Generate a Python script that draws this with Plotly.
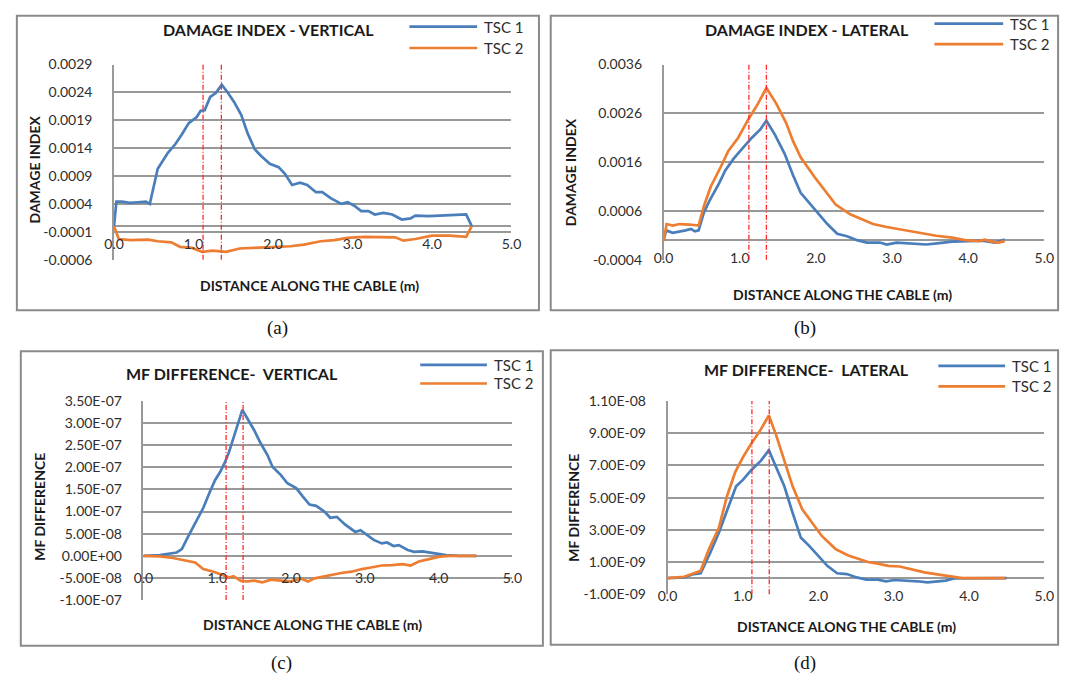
import plotly.graph_objects as go

W, H = 1073, 687

# ---------------- data ----------------
# (a) damage index - vertical
a1_x = [0, 0.03, 0.1, 0.2, 0.3, 0.4, 0.45, 0.55, 0.68, 0.77, 0.85, 0.94, 1.04, 1.09, 1.14, 1.21, 1.28, 1.355,
        1.43, 1.51, 1.6, 1.68, 1.77, 1.85, 1.96, 2.07, 2.15, 2.24, 2.34, 2.43, 2.54, 2.62, 2.73, 2.86, 2.94,
        3.03, 3.11, 3.2, 3.28, 3.39, 3.5, 3.62, 3.73, 3.79, 3.96, 4.22, 4.43, 4.5]
a1_y = [0, 0.00044, 0.00044, 0.00042, 0.00043, 0.00044, 0.0004, 0.00103, 0.00132, 0.00147, 0.00164, 0.00185,
        0.00196, 0.00207, 0.00208, 0.00232, 0.00239, 0.00254, 0.0024, 0.00223, 0.002, 0.00167, 0.00138, 0.00126,
        0.00112, 0.00106, 0.00094, 0.00074, 0.00078, 0.00074, 0.00061, 0.00061, 0.0005, 0.0004, 0.00043, 0.00036,
        0.00027, 0.00027, 0.00021, 0.00024, 0.00021, 0.00012, 0.00014, 0.00019, 0.00018, 0.00019, 0.00021, 0.0]
a2_x = [0, 0.06, 0.21, 0.43, 0.55, 0.72, 0.83, 0.98, 1.11, 1.24, 1.41, 1.58, 1.75, 2.0, 2.22, 2.39, 2.6, 2.77,
        2.94, 3.15, 3.37, 3.54, 3.64, 3.79, 4.0, 4.22, 4.43, 4.5]
a2_y = [0, -0.00023, -0.00025, -0.00024, -0.00027, -0.00029, -0.00037, -0.00039, -0.00046, -0.00044, -0.00046,
        -0.0004, -0.00039, -0.00037, -0.00036, -0.00033, -0.00027, -0.00025, -0.00021, -0.00019, -0.0002, -0.0002,
        -0.00026, -0.00023, -0.00017, -0.00017, -0.00019, 0]

# (b) damage index - lateral
b1_x = [0, 0.035, 0.12, 0.21, 0.29, 0.36, 0.41, 0.46, 0.53, 0.6, 0.73, 0.81, 0.92, 1.03, 1.16, 1.27, 1.35, 1.46,
        1.59, 1.7, 1.8, 1.91, 2.02, 2.15, 2.28, 2.41, 2.54, 2.67, 2.84, 2.93, 3.06, 3.27, 3.45, 3.62, 3.79, 4.01,
        4.18, 4.35, 4.48]
b1_y = [0, 0.0002, 0.00015, 0.00017, 0.0002, 0.00023, 0.00018, 0.0002, 0.00057, 0.0008, 0.00117, 0.00143, 0.00167,
        0.00187, 0.0021, 0.00227, 0.00245, 0.00217, 0.00177, 0.00133, 0.00097, 0.00077, 0.00057, 0.00033, 0.00013,
        0.00008, 0.0, -0.00005, -0.00005, -0.00009, -0.00005, -0.00007, -0.00009, -0.00006, -0.00003, -0.00002,
        -0.00001, -0.00005, 0.00001]
b2_x = [0, 0.04, 0.12, 0.21, 0.34, 0.46, 0.53, 0.62, 0.75, 0.85, 0.98, 1.11, 1.24, 1.35, 1.48, 1.61, 1.7, 1.8,
        1.98, 2.11, 2.26, 2.45, 2.6, 2.75, 2.93, 3.14, 3.36, 3.58, 3.79, 3.96, 4.14, 4.22, 4.31, 4.4, 4.48]
b2_y = [-0.00002, 0.00033, 0.0003, 0.00033, 0.00032, 0.0003, 0.0007, 0.0011, 0.0015, 0.00183, 0.0021, 0.00247,
        0.0028, 0.00312, 0.0028, 0.0024, 0.00203, 0.0017, 0.0013, 0.00103, 0.00073, 0.00053, 0.00043, 0.00033,
        0.00027, 0.00021, 0.00015, 0.00009, 0.00005, 0.0, -0.00002, 0.00001, -0.00003, -0.00005, -0.00002]

# (c) MF difference - vertical
c1_x = [0, 0.22, 0.45, 0.52, 0.61, 0.70, 0.81, 0.9, 0.97, 1.04, 1.1, 1.16, 1.22, 1.29, 1.34, 1.41, 1.5, 1.59,
        1.68, 1.75, 1.86, 1.95, 2.07, 2.16, 2.25, 2.34, 2.46, 2.53, 2.62, 2.73, 2.87, 2.94, 3.05, 3.12, 3.23, 3.3,
        3.39, 3.46, 3.58, 3.67, 3.78, 3.92, 4.1, 4.28, 4.51]
c1_y = [0, 1.5e-09, 7.5e-09, 1.5e-08, 4.5e-08, 7.5e-08, 1.08e-07, 1.45e-07, 1.71e-07, 1.9e-07, 2.1e-07, 2.35e-07,
        2.68e-07, 3.02e-07, 3.3e-07, 3.1e-07, 2.84e-07, 2.54e-07, 2.28e-07, 2.01e-07, 1.83e-07, 1.64e-07, 1.53e-07,
        1.34e-07, 1.16e-07, 1.13e-07, 9.9e-08, 8.6e-08, 8.8e-08, 7.1e-08, 5.4e-08, 5.8e-08, 4.5e-08, 3.6e-08,
        2.8e-08, 3.0e-08, 2.2e-08, 2.4e-08, 1.3e-08, 9e-09, 1.0e-08, 6e-09, 1.5e-09, 0, 0]
c2_x = [0, 0.22, 0.4, 0.54, 0.7, 0.81, 0.95, 1.06, 1.16, 1.22, 1.32, 1.41, 1.5, 1.61, 1.73, 1.86, 2.0, 2.14, 2.23,
        2.32, 2.46, 2.59, 2.68, 2.82, 2.96, 3.1, 3.23, 3.37, 3.51, 3.62, 3.73, 3.87, 4.01, 4.15, 4.51]
c2_y = [0, -1.5e-09, -5e-09, -9e-09, -1.5e-08, -3.0e-08, -3.6e-08, -4.3e-08, -4.9e-08, -4.6e-08, -5.7e-08,
        -5.8e-08, -5.6e-08, -6.0e-08, -5.4e-08, -5.6e-08, -5.8e-08, -5.2e-08, -5.8e-08, -5.1e-08, -4.6e-08,
        -4.3e-08, -3.9e-08, -3.6e-08, -3.0e-08, -2.6e-08, -2.2e-08, -2.1e-08, -1.9e-08, -2.2e-08, -1.3e-08,
        -7.5e-09, -2e-09, 0, 0]

# (d) MF difference - lateral
d1_x = [0, 0.22, 0.35, 0.44, 0.57, 0.68, 0.81, 0.91, 1.0, 1.11, 1.24, 1.345, 1.44, 1.55, 1.66, 1.77, 1.88, 1.99,
        2.12, 2.25, 2.38, 2.51, 2.64, 2.79, 2.9, 3.01, 3.19, 3.32, 3.45, 3.58, 3.69, 3.8, 3.97, 4.2, 4.5]
d1_y = [0, 4e-11, 2.5e-10, 3e-10, 1.6e-09, 2.8e-09, 4.45e-09, 5.7e-09, 6.1e-09, 6.7e-09, 7.3e-09, 7.95e-09,
        6.9e-09, 5.7e-09, 4.05e-09, 2.5e-09, 2.0e-09, 1.4e-09, 7.6e-10, 3e-10, 2.5e-10, 4e-11, -1e-10, -1e-10,
        -2e-10, -1.2e-10, -1.6e-10, -2e-10, -2.7e-10, -2e-10, -1.6e-10, -2e-11, -2e-11, 0, 0]
d2_x = [0, 0.22, 0.35, 0.44, 0.55, 0.68, 0.79, 0.9, 1.0, 1.11, 1.22, 1.345, 1.44, 1.55, 1.66, 1.79, 1.92, 2.05,
        2.23, 2.4, 2.53, 2.66, 2.79, 2.93, 3.08, 3.23, 3.41, 3.58, 3.73, 3.91, 4.06, 4.24, 4.48]
d2_y = [0, 8e-11, 3e-10, 4.5e-10, 1.8e-09, 3.1e-09, 5.1e-09, 6.6e-09, 7.5e-09, 8.35e-09, 9.1e-09, 1.01e-08,
        8.9e-09, 7.3e-09, 5.7e-09, 4.25e-09, 3.4e-09, 2.6e-09, 1.8e-09, 1.4e-09, 1.2e-09, 1.0e-09, 9e-10, 7.6e-10,
        7.2e-10, 5.5e-10, 3.5e-10, 2.3e-10, 1.4e-10, 0, 0, 0, 0]

series_names = ["TSC 1", "TSC 2"]
x_tickvals = [0, 1, 2, 3, 4, 5]
x_ticktext = ["0.0", "1.0", "2.0", "3.0", "4.0", "5.0"]
damage_locs = [1.12, 1.35]

a_ytickvals = [-0.0006, -0.0001, 0.0004, 0.0009, 0.0014, 0.0019, 0.0024, 0.0029]
a_yticktext = ["-0.0006", "-0.0001", "0.0004", "0.0009", "0.0014", "0.0019", "0.0024", "0.0029"]
b_ytickvals = [-0.0004, 0.0006, 0.0016, 0.0026, 0.0036]
b_yticktext = ["-0.0004", "0.0006", "0.0016", "0.0026", "0.0036"]
c_ytickvals = [-1e-07, -5e-08, 0, 5e-08, 1e-07, 1.5e-07, 2e-07, 2.5e-07, 3e-07, 3.5e-07]
c_yticktext = ["-1.00E-07", "-5.00E-08", "0.00E+00", "5.00E-08", "1.00E-07", "1.50E-07", "2.00E-07",
               "2.50E-07", "3.00E-07", "3.50E-07"]
d_ytickvals = [-1e-09, 1e-09, 3e-09, 5e-09, 7e-09, 9e-09, 1.1e-08]
d_yticktext = ["-1.00E-09", "1.00E-09", "3.00E-09", "5.00E-09", "7.00E-09", "9.00E-09", "1.10E-08"]

titles = ["DAMAGE INDEX - VERTICAL", "DAMAGE INDEX - LATERAL", "MF DIFFERENCE-  VERTICAL", "MF DIFFERENCE-  LATERAL"]
ytitles = ["DAMAGE INDEX", "DAMAGE INDEX", "MF DIFFERENCE", "MF DIFFERENCE"]
xtitle = "DISTANCE ALONG THE CABLE (m)"
captions = ["(a)", "(b)", "(c)", "(d)"]

# ---------------- style / layout ----------------
BLUE = "#4a7ebb"
ORANGE = "#ed7d31"
GRID = "#999999"
TXT = "#2e2e2e"
FONT = "Lato"

panels = [
    dict(data=(a1_x, a1_y, a2_x, a2_y), yr=[-0.0006, 0.0029], yt=(a_ytickvals, a_yticktext),
         plot=(106, 57, 511, 257), frame=(7, 7, 539, 309), title_xy=(263, 21), leg=(407, 476, 18, 40),
         xt_xy=(305, 284), yt_xy=(25, 165), cap_xy=(273, 327), xstand=8),
    dict(data=(b1_x, b1_y, b2_x, b2_y), yr=[-0.0004, 0.0036], yt=(b_ytickvals, b_yticktext),
         plot=(666, 57, 1054, 257), frame=(551, 7, 1068, 309), title_xy=(812, 21), leg=(942, 1012, 15, 36),
         xt_xy=(848, 293), yt_xy=(572, 167), cap_xy=(810, 327), xstand=8),
    dict(data=(c1_x, c1_y, c2_x, c2_y), yr=[-1e-07, 3.5e-07], yt=(c_ytickvals, c_yticktext),
         plot=(136, 402, 512, 606), frame=(11, 351, 543, 653), title_xy=(226, 374), leg=(418, 486, 365, 384),
         xt_xy=(308, 631), yt_xy=(30, 510), cap_xy=(277, 671), xstand=12),
    dict(data=(d1_x, d1_y, d2_x, d2_y), yr=[-1e-09, 1.1e-08], yt=(d_ytickvals, d_yticktext),
         plot=(670, 402, 1054, 600), frame=(551, 350, 1068, 652), title_xy=(812, 370), leg=(946, 1014, 366, 387),
         xt_xy=(852, 633), yt_xy=(574, 511), cap_xy=(810, 671), xstand=8),
]


def px(x):
    return x / W


def py(y):
    return 1 - y / H


fig = go.Figure()
shapes = []
annotations = []
layout_axes = {}

for i, p in enumerate(panels, start=1):
    xs = "" if i == 1 else str(i)
    xa, ya = "x" + xs, "y" + xs
    x1, y1, x2, y2 = p["data"]
    fig.add_trace(go.Scatter(x=x1, y=y1, mode="lines", name=series_names[0], xaxis=xa, yaxis=ya,
                             line=dict(color=BLUE, width=2.7), showlegend=False))
    fig.add_trace(go.Scatter(x=x2, y=y2, mode="lines", name=series_names[1], xaxis=xa, yaxis=ya,
                             line=dict(color=ORANGE, width=2.7), showlegend=False))

    L, T, R, B = p["plot"]
    ydom = [py(B), py(T)]
    ymin, ymax = p["yr"]
    zero_pos = ydom[0] + (0 - ymin) / (ymax - ymin) * (ydom[1] - ydom[0])

    layout_axes["xaxis" + xs] = dict(
        domain=[px(L), px(R)], range=[0, 5], anchor="free", position=zero_pos,
        tickmode="array", tickvals=x_tickvals, ticktext=x_ticktext,
        showgrid=False, zeroline=False, showline=False, ticks="",
        ticklabelstandoff=p["xstand"], tickfont=dict(family=FONT, size=14, color=TXT), fixedrange=True)
    layout_axes["yaxis" + xs] = dict(
        domain=ydom, range=p["yr"], anchor=xa,
        tickmode="array", tickvals=p["yt"][0], ticktext=p["yt"][1],
        showgrid=True, gridcolor=GRID, gridwidth=1.5,
        zeroline=True, zerolinecolor=GRID, zerolinewidth=1.5,
        showline=True, linecolor=GRID, linewidth=1.5, ticks="",
        ticklabelstandoff=17, tickfont=dict(family=FONT, size=14, color=TXT), fixedrange=True)

    # damage location markers
    for loc in damage_locs:
        shapes.append(dict(type="line", xref=xa, yref=ya + " domain", x0=loc, x1=loc, y0=0, y1=1,
                           line=dict(color="#ff2a2a", width=1.3, dash="5px,2px,1px,2px")))

    # panel frame
    fl, ft, fr, fb = p["frame"]
    shapes.append(dict(type="rect", xref="paper", yref="paper", x0=px(fl), x1=px(fr), y0=py(fb), y1=py(ft),
                       line=dict(color="#8a8a8a", width=2), layer="below"))

    # legend
    lx0, lx1, ly1, ly2 = p["leg"]
    for ly, col, nm in ((ly1, BLUE, series_names[0]), (ly2, ORANGE, series_names[1])):
        shapes.append(dict(type="line", xref="paper", yref="paper", x0=px(lx0), x1=px(lx1), y0=py(ly), y1=py(ly),
                           line=dict(color=col, width=2.7)))
        annotations.append(dict(text=nm, xref="paper", yref="paper", x=px(lx1 + 5), y=py(ly), xanchor="left",
                                yanchor="middle", showarrow=False, font=dict(family=FONT, size=15, color=TXT)))

    tx, ty = p["title_xy"]
    annotations.append(dict(text="<b>" + titles[i - 1] + "</b>", xref="paper", yref="paper", x=px(tx), y=py(ty),
                            xanchor="center", yanchor="middle", showarrow=False,
                            font=dict(family=FONT, size=16, color="#1a1a1a")))
    xx, xy = p["xt_xy"]
    annotations.append(dict(text="<b>" + xtitle + "</b>", xref="paper", yref="paper", x=px(xx), y=py(xy),
                            xanchor="center", yanchor="middle", showarrow=False,
                            font=dict(family=FONT, size=14, color="#1a1a1a")))
    yx, yy = p["yt_xy"]
    annotations.append(dict(text="<b>" + ytitles[i - 1] + "</b>", xref="paper", yref="paper", x=px(yx), y=py(yy),
                            xanchor="center", yanchor="middle", showarrow=False, textangle=-90,
                            font=dict(family=FONT, size=14, color="#1a1a1a")))
    cx, cy = p["cap_xy"]
    annotations.append(dict(text=captions[i - 1], xref="paper", yref="paper", x=px(cx), y=py(cy),
                            xanchor="center", yanchor="middle", showarrow=False,
                            font=dict(family="Liberation Serif", size=19, color="#111111")))

fig.update_layout(
    width=W, height=H, margin=dict(l=0, r=0, t=0, b=0),
    paper_bgcolor="white", plot_bgcolor="white",
    shapes=shapes, annotations=annotations, showlegend=False,
    **layout_axes,
)

fig.write_html("out.html", config=dict(displayModeBar=False))
